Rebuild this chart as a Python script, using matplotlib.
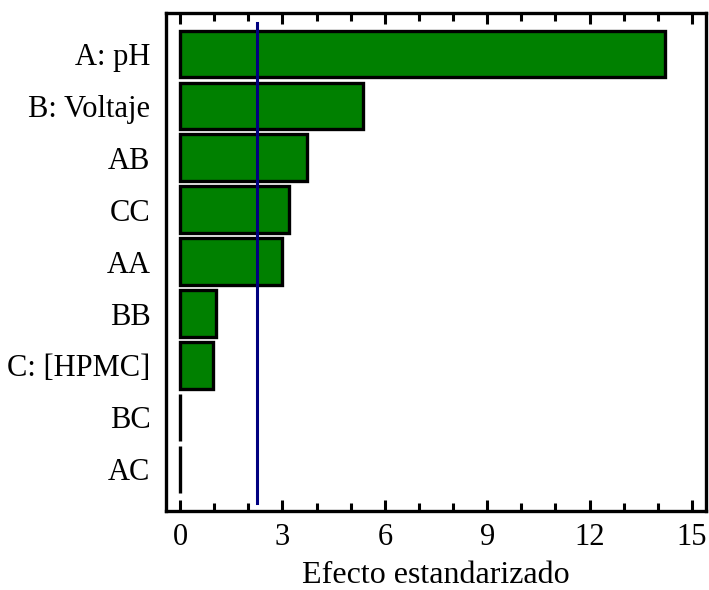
import matplotlib.pyplot as plt
from matplotlib.ticker import MultipleLocator

# standardized effects, largest first
terms = ["A: pH", "B: Voltaje", "AB", "CC", "AA", "BB", "C: [HPMC]", "BC", "AC"]
effects = [14.22, 5.37, 3.72, 3.20, 3.00, 1.05, 0.96, 0.012, 0.008]
t_crit = 2.25

plt.rcParams["font.family"] = ["Liberation Serif", "DejaVu Serif"]

fig = plt.figure(figsize=(7.09, 5.90), dpi=100)
ax = fig.add_axes([0.2337, 0.1344, 0.7616, 0.8444])

ypos = list(range(len(terms)))
ax.barh(ypos, effects, height=0.9, color="green", edgecolor="black", linewidth=2.4)
ax.plot([t_crit, t_crit], [-0.6, 8.65], color="#000080", linewidth=2.2)

ax.set_xlim(-0.42, 15.4)
ax.set_ylim(8.8, -0.8)
ax.set_yticks(ypos)
ax.set_yticklabels(terms, fontsize=22)
ax.xaxis.set_major_locator(MultipleLocator(3))
ax.xaxis.set_minor_locator(MultipleLocator(1))
ax.tick_params(axis="x", which="major", direction="in", length=8, width=2.2,
               top=True, labelsize=22, pad=9)
ax.tick_params(axis="x", which="minor", direction="in", length=6, width=2.2, top=True)
ax.tick_params(axis="y", length=0, pad=11)
ax.set_xlabel("Efecto estandarizado", fontsize=23, labelpad=6)

for s in ax.spines.values():
    s.set_linewidth(2.4)

fig.savefig("out.png", dpi=100)
